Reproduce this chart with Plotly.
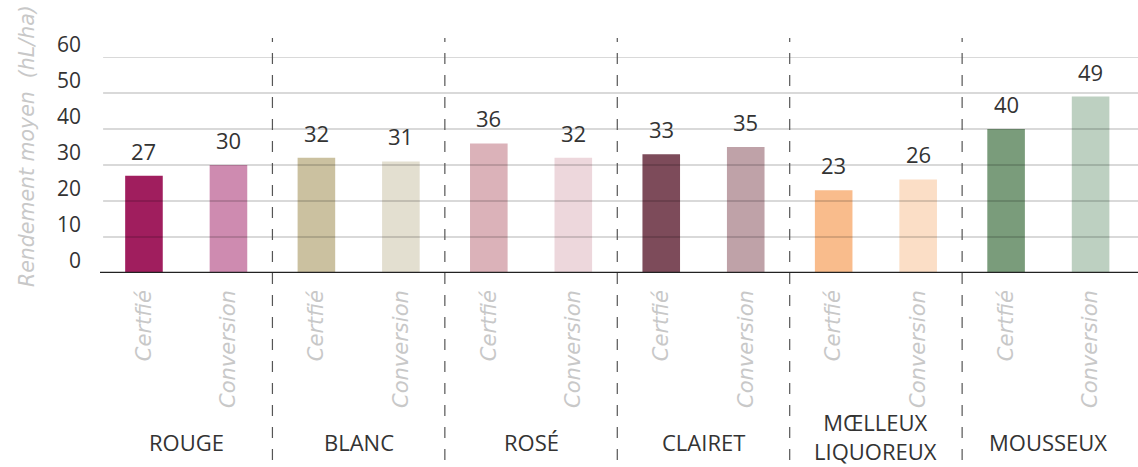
import plotly.graph_objects as go

# Rendement moyen par couleur de vin, certifié vs conversion (hL/ha)
categories = ["ROUGE", "BLANC", "ROSÉ", "CLAIRET", "MŒLLEUX<br>LIQUOREUX", "MOUSSEUX"]
series_names = ["Certfié", "Conversion"]
certifie = [27, 32, 36, 33, 23, 40]
conversion = [30, 31, 32, 35, 26, 49]
y_ticks = [0, 10, 20, 30, 40, 50, 60]

colors_certifie = ["#A01E5E", "#CBC1A0", "#DBB2B9", "#7D4B5A", "#F9BC8C", "#7A9C7B"]
colors_conversion = ["#CE8BB0", "#E3DFD0", "#EDD7DC", "#BFA2A8", "#FBDEC6", "#BDD0C1"]

FONT = "Open Sans"
ITALIC_FONT = "DejaVu Sans"
OFFSET = 0.245
BAR_W = 0.218

idx = list(range(len(categories)))
x_cert = [i - OFFSET for i in idx]
x_conv = [i + OFFSET for i in idx]

fig = go.Figure()
fig.add_trace(go.Bar(x=x_cert, y=certifie, width=BAR_W, name=series_names[0],
                     marker=dict(color=colors_certifie, line=dict(width=0))))
fig.add_trace(go.Bar(x=x_conv, y=conversion, width=BAR_W, name=series_names[1],
                     marker=dict(color=colors_conversion, line=dict(width=0))))

# value labels above bars
for xs, vals in ((x_cert, certifie), (x_conv, conversion)):
    for x, v in zip(xs, vals):
        fig.add_annotation(x=x, y=v, text=str(v), showarrow=False, yanchor="bottom",
                           yshift=8, font=dict(family=FONT, size=22, color="#333333"))

# category labels under each group; wrapped labels nudged up to stay in the page
for i, c in enumerate(categories):
    n_lines = c.count("<br>") + 1
    fig.add_annotation(x=i, y=-0.782, yref="paper", text=c, showarrow=False,
                       yanchor="middle", yshift=5 * (n_lines - 1),
                       font=dict(family=FONT, size=22, color="#333333"))

# y axis title
fig.add_annotation(x=-0.0703, xref="paper", y=0.588, yref="paper",
                   text="Rendement moyen\u00a0 (hL/ha)", textangle=-90, showarrow=False,
                   xanchor="center", yanchor="middle",
                   font=dict(family=ITALIC_FONT, size=20.5, color="#C8C8C8", style="italic"))

shapes = []
# horizontal gridlines drawn over the bars
for t in y_ticks[1:]:
    shapes.append(dict(type="line", xref="paper", yref="y", x0=0.003, x1=1, y0=t, y1=t,
                       line=dict(color="rgba(0,0,0,0.2)", width=1.5), layer="above"))
# baseline
shapes.append(dict(type="line", xref="paper", yref="y", x0=0, x1=1, y0=0, y1=0,
                   line=dict(color="#222222", width=2.5), layer="above"))
# dashed group separators
for i in idx[:-1]:
    shapes.append(dict(type="line", xref="x", yref="paper", x0=i + 0.5, x1=i + 0.5,
                       y0=-0.866, y1=1.088,
                       line=dict(color="#555555", width=1.2, dash="11px,11px"), layer="above"))

fig.update_layout(
    width=1138, height=467,
    margin=dict(l=100, r=0, t=57, b=194),
    plot_bgcolor="white", paper_bgcolor="white",
    showlegend=False, barmode="overlay",
    shapes=shapes,
    xaxis=dict(range=[-0.5, 5.52], tickvals=x_cert + x_conv,
               ticktext=[series_names[0]] * len(idx) + [series_names[1]] * len(idx),
               tickangle=-90, showgrid=False, zeroline=False, showline=False, ticks="",
               ticklabelstandoff=12,
               tickfont=dict(family=ITALIC_FONT, size=21, color="#C8C8C8", style="italic")),
    yaxis=dict(range=[0, 60], tickvals=y_ticks, showgrid=False, zeroline=False,
               showline=False, ticks="", ticklabelstandoff=18, ticklabelshift=-12,
               tickfont=dict(family=FONT, size=21, color="#333333")),
)

fig.write_html("out.html")
